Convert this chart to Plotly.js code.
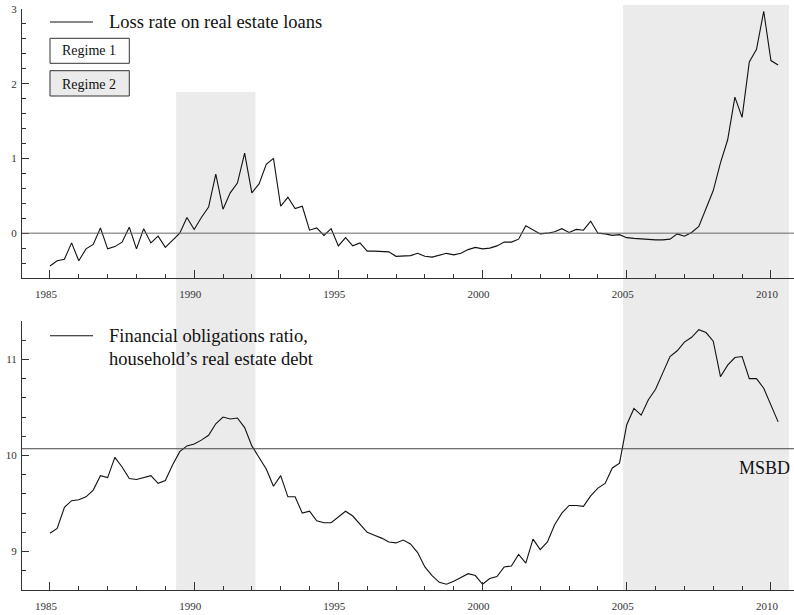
<!DOCTYPE html>
<html>
<head>
<meta charset="utf-8">
<script src="https://cdn.plot.ly/plotly-3.0.1.min.js"></script>
<style>html,body{margin:0;padding:0;background:#fff;}#chart{width:794px;height:615px;}</style>
</head>
<body>
<div id="chart"></div>
<script>
// ---- data (quarterly, starting 1985Q1) ----
const startYear = 1985;
const lossRate = [
  -0.44, -0.37, -0.35, -0.13,
  -0.37, -0.21, -0.15, 0.07,
  -0.21, -0.18, -0.12, 0.08,
  -0.21, 0.06, -0.13, -0.04,
  -0.19, -0.10, 0.00, 0.21,
  0.05, 0.21, 0.35, 0.79,
  0.32, 0.54, 0.67, 1.07,
  0.54, 0.66, 0.92, 1.00,
  0.36, 0.48, 0.33, 0.36,
  0.04, 0.07, -0.03, 0.06,
  -0.17, -0.06, -0.17, -0.13,
  -0.24, -0.24, -0.25, -0.25,
  -0.31, -0.30, -0.30, -0.27,
  -0.31, -0.32, -0.29, -0.27,
  -0.29, -0.27, -0.22, -0.19,
  -0.21, -0.20, -0.17, -0.12,
  -0.12, -0.08, 0.10, 0.04,
  -0.01, 0.00, 0.02, 0.06,
  0.01, 0.05, 0.04, 0.16,
  0.00, -0.01, -0.03, -0.02,
  -0.06, -0.07, -0.08, -0.08,
  -0.09, -0.09, -0.08, -0.01,
  -0.04, 0.01, 0.09, 0.33,
  0.57, 0.94, 1.25, 1.82,
  1.55, 2.29, 2.46, 2.97,
  2.31, 2.25
];
const forRatio = [
  9.19, 9.24, 9.46, 9.53,
  9.54, 9.57, 9.64, 9.79,
  9.77, 9.98, 9.88, 9.76,
  9.75, 9.77, 9.79, 9.71,
  9.74, 9.90, 10.04, 10.10,
  10.12, 10.16, 10.21, 10.33,
  10.40, 10.38, 10.39, 10.29,
  10.10, 9.98, 9.86, 9.68,
  9.79, 9.57, 9.57, 9.40,
  9.42, 9.32, 9.30, 9.30,
  9.36, 9.42, 9.37, 9.29,
  9.20, 9.17, 9.14, 9.10,
  9.09, 9.12, 9.08, 8.99,
  8.84, 8.75, 8.68, 8.66,
  8.69, 8.73, 8.77, 8.75,
  8.66, 8.72, 8.74, 8.84,
  8.85, 8.97, 8.88, 9.13,
  9.02, 9.10, 9.28, 9.40,
  9.48, 9.48, 9.47, 9.58,
  9.66, 9.71, 9.87, 9.92,
  10.32, 10.49, 10.42, 10.58,
  10.69, 10.86, 11.03, 11.09,
  11.18, 11.23, 11.31, 11.28,
  11.19, 10.82, 10.94, 11.02,
  11.03, 10.80, 10.80, 10.70,
  10.52, 10.35
];
const regimeStart = [1989.5, 2005.0];
const regimeEnd = [1992.0, 2010.5];
const msbd = 10.07;
const xTickVals = [1985, 1990, 1995, 2000, 2005, 2010];
const legendTop = 'Loss rate on real estate loans';
const legendBottom = ['Financial obligations ratio,', 'household’s real estate debt'];
const regimeLabels = ['Regime 1', 'Regime 2'];
const msbdLabel = 'MSBD';

// ---- layout helpers ----
const W = 794, H = 615, ML = 22;
const px = x => (x - ML) / (W - ML);
const py = y => 1 - y / H;
const serif = '"Liberation Serif", "Times New Roman", serif';
const xq = lossRate.map((_, i) => startYear + i / 4);
const xq2 = forRatio.map((_, i) => startYear + i / 4);

const traces = [
  {x: xq, y: lossRate, xaxis: 'x', yaxis: 'y', type: 'scatter', mode: 'lines',
   line: {color: '#111', width: 1.1}, hoverinfo: 'skip', showlegend: false},
  {x: xq2, y: forRatio, xaxis: 'x2', yaxis: 'y2', type: 'scatter', mode: 'lines',
   line: {color: '#111', width: 1.1}, hoverinfo: 'skip', showlegend: false}
];

const tickFont = {family: serif, size: 11, color: '#333'};
const xRange = [1984.03, 2010.80];
function xAxis(anchor) {
  return {
    anchor: anchor, domain: [0, 1], range: xRange, showline: true, linecolor: '#333', linewidth: 1,
    ticks: 'inside', ticklen: 8, tickcolor: '#333', tickwidth: 1,
    tickvals: xTickVals, ticktext: xTickVals.map(String),
    minor: {dtick: 1, tick0: 1985, ticks: 'inside', ticklen: 4, tickcolor: '#333', tickwidth: 1, showgrid: false},
    showgrid: false, zeroline: false, tickfont: tickFont, ticklabelstandoff: 6, ticklabelshift: -4,
    fixedrange: true
  };
}
function yAxis(anchor, domain, range, tick0) {
  return {
    anchor: anchor, domain: domain, range: range, showline: true, linecolor: '#333', linewidth: 1,
    ticks: 'inside', ticklen: 7, tickcolor: '#333', tickwidth: 1, dtick: 1, tick0: tick0,
    minor: {dtick: 0.2, tick0: tick0, ticks: 'inside', ticklen: 4, tickcolor: '#333', tickwidth: 1, showgrid: false},
    showgrid: false, zeroline: false, tickfont: tickFont, ticklabelstandoff: 2,
    fixedrange: true
  };
}

const shapes = [];
const shadeTops = [py(92), py(5)];
regimeStart.forEach((s, i) => {
  shapes.push({type: 'rect', xref: 'x', yref: 'paper', x0: s - 0.125, x1: regimeEnd[i] + 0.125,
    y0: py(590), y1: shadeTops[i], fillcolor: '#ebebeb', line: {width: 0}, layer: 'below'});
});
// zero line top panel
shapes.push({type: 'line', xref: 'paper', yref: 'y', x0: 0, x1: 1, y0: 0, y1: 0,
  line: {color: '#666', width: 1}});
// MSBD line
shapes.push({type: 'line', xref: 'paper', yref: 'y2', x0: 0, x1: 1, y0: msbd, y1: msbd,
  line: {color: '#444', width: 1.2}});
// legend lines
shapes.push({type: 'line', xref: 'paper', yref: 'paper', x0: px(50), x1: px(93), y0: py(22), y1: py(22),
  line: {color: '#111', width: 1.1}});
shapes.push({type: 'line', xref: 'paper', yref: 'paper', x0: px(50), x1: px(93), y0: py(335.7), y1: py(335.7),
  line: {color: '#111', width: 1.1}});
// regime boxes
shapes.push({type: 'rect', xref: 'paper', yref: 'paper', x0: px(50), x1: px(129.3), y0: py(63.3), y1: py(38.3),
  fillcolor: '#ffffff', line: {color: '#333', width: 1}});
shapes.push({type: 'rect', xref: 'paper', yref: 'paper', x0: px(50), x1: px(129.3), y0: py(96), y1: py(70.7),
  fillcolor: '#ebebeb', line: {color: '#333', width: 1}});

const bigFont = {family: serif, size: 18.5, color: '#111'};
const annotations = [
  {text: legendTop, x: px(107), y: py(22), xref: 'paper', yref: 'paper', xanchor: 'left', yanchor: 'middle', showarrow: false, font: bigFont},
  {text: legendBottom[0], x: px(107), y: py(335.7), xref: 'paper', yref: 'paper', xanchor: 'left', yanchor: 'middle', showarrow: false, font: bigFont},
  {text: legendBottom[1], x: px(107), y: py(358.5), xref: 'paper', yref: 'paper', xanchor: 'left', yanchor: 'middle', showarrow: false, font: bigFont},
  {text: regimeLabels[0], x: px(60), y: py(50.5), xref: 'paper', yref: 'paper', xanchor: 'left', yanchor: 'middle', showarrow: false, font: {family: serif, size: 14, color: '#111'}},
  {text: regimeLabels[1], x: px(60), y: py(84), xref: 'paper', yref: 'paper', xanchor: 'left', yanchor: 'middle', showarrow: false, font: {family: serif, size: 14, color: '#111'}},
  {text: msbdLabel, x: px(792), y: py(468), xref: 'paper', yref: 'paper', xanchor: 'right', yanchor: 'middle', showarrow: false, font: {family: serif, size: 18, color: '#111'}}
];

const layout = {
  width: W, height: H,
  margin: {l: ML, r: 0, t: 0, b: 0, pad: 0},
  paper_bgcolor: '#ffffff', plot_bgcolor: 'rgba(0,0,0,0)',
  showlegend: false,
  xaxis: xAxis('y'),
  xaxis2: xAxis('y2'),
  yaxis: yAxis('x', [py(278), py(9)], [-0.6, 3], 0),
  yaxis2: yAxis('x2', [py(590), py(321)], [8.6, 11.4], 9),
  shapes: shapes,
  annotations: annotations
};

Plotly.newPlot('chart', traces, layout, {displayModeBar: false, staticPlot: true});
</script>
</body>
</html>
